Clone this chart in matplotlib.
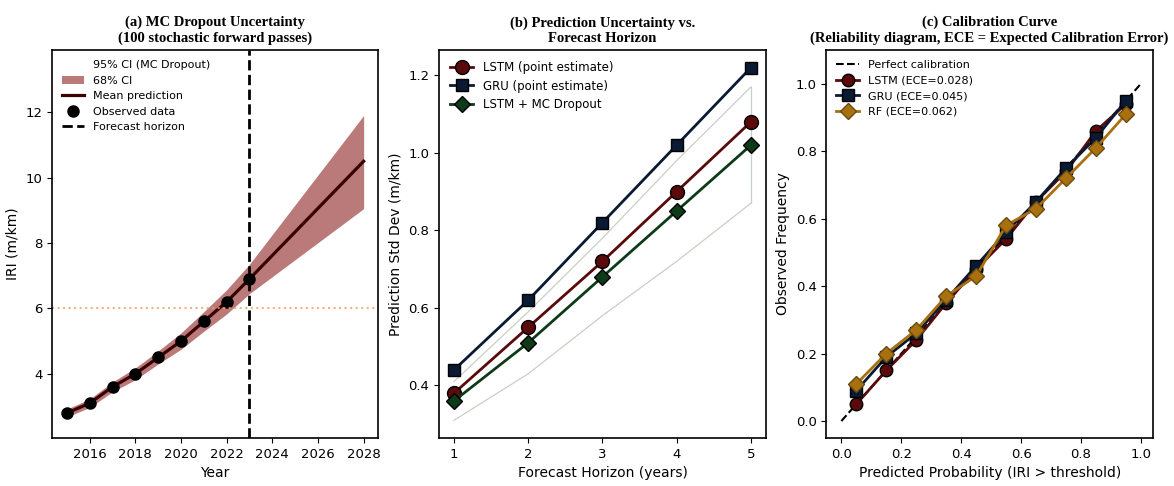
import numpy as np
import matplotlib
matplotlib.use("Agg")
import matplotlib.pyplot as plt

# ---- panel (a): MC dropout forecast ----
years = [2015, 2016, 2017, 2018, 2019, 2020, 2021, 2022, 2023,
         2024, 2025, 2026, 2027, 2028]
mean_pred = [2.8, 3.1, 3.6, 4.0, 4.5, 5.0, 5.6, 6.2, 6.9,
             7.62, 8.34, 9.06, 9.78, 10.5]
ci68_low = [2.68, 2.97, 3.45, 3.82, 4.3, 4.75, 5.3, 5.83, 6.45,
            6.97, 7.49, 8.01, 8.53, 9.05]
ci68_high = [2.92, 3.23, 3.75, 4.18, 4.7, 5.25, 5.9, 6.57, 7.35,
             8.26, 9.17, 10.08, 10.99, 11.9]
ci95_low = [2.58, 2.85, 3.3, 3.65, 4.1, 4.5, 5.0, 5.45, 6.0,
            6.3, 6.6, 6.95, 7.3, 7.6]
ci95_high = [3.02, 3.35, 3.9, 4.35, 4.9, 5.5, 6.2, 6.95, 7.8,
             8.9, 10.0, 11.1, 12.2, 13.36]
obs_years = [2015, 2016, 2017, 2018, 2019, 2020, 2021, 2022, 2023]
obs_iri = [2.8, 3.1, 3.6, 4.0, 4.5, 5.0, 5.6, 6.2, 6.9]
forecast_year = 2023
iri_threshold = 6.0

# ---- panel (b): std dev vs horizon ----
horizons = [1, 2, 3, 4, 5]
std_lstm = [0.38, 0.55, 0.72, 0.90, 1.08]
std_gru = [0.44, 0.62, 0.82, 1.02, 1.22]
std_mc = [0.36, 0.51, 0.68, 0.85, 1.02]
mc_band_low = [0.31, 0.43, 0.58, 0.72, 0.87]
mc_band_high = [0.41, 0.59, 0.78, 0.98, 1.17]

# ---- panel (c): calibration ----
prob_bins = [0.05, 0.15, 0.25, 0.35, 0.45, 0.55, 0.65, 0.75, 0.85, 0.95]
obs_lstm = [0.05, 0.15, 0.24, 0.35, 0.45, 0.54, 0.65, 0.74, 0.86, 0.94]
obs_gru = [0.09, 0.19, 0.26, 0.36, 0.46, 0.56, 0.65, 0.75, 0.84, 0.95]
obs_rf = [0.11, 0.20, 0.27, 0.37, 0.43, 0.58, 0.63, 0.72, 0.81, 0.91]
ece = {'LSTM': 0.028, 'GRU': 0.045, 'RF': 0.062}

c_lstm = '#5a0a0a'
c_gru = '#0b1a33'
c_mc = '#0d3a18'
c_rf = '#a8700f'
title_font = dict(family='Liberation Serif', weight='bold', size=10.5)

fig, axes = plt.subplots(1, 3, figsize=(11.74, 4.86), dpi=100)
fig.subplots_adjust(left=0.0443, right=0.982, top=0.897, bottom=0.099,
                    wspace=0.186)

# (a)
ax = axes[0]
ax.fill_between(years, ci95_low, ci95_high, color='#8b1a1a', alpha=0.0,
                linewidth=0, label='95% CI (MC Dropout)')
ax.fill_between(years, ci68_low, ci68_high, color='#8b1a1a', alpha=0.58,
                linewidth=0, label='68% CI')
ax.plot(years, mean_pred, color='#3a0000', lw=2.3, label='Mean prediction')
ax.plot(obs_years, obs_iri, 'o', color='black', ms=8, label='Observed data')
ax.axvline(forecast_year, color='black', ls='--', lw=2, label='Forecast horizon')
ax.axhline(iri_threshold, color='#f0a060', ls=':', lw=1.5, alpha=0.8)
ax.set_ylim(2.04, 13.9)
ax.set_xticks([2016, 2018, 2020, 2022, 2024, 2026, 2028])
ax.set_xlabel('Year', fontsize=10)
ax.set_ylabel('IRI (m/km)', fontsize=10)
ax.set_title('(a) MC Dropout Uncertainty\n(100 stochastic forward passes)',
             fontdict=title_font)
ax.legend(loc='upper left', fontsize=8, frameon=False)

# (b)
ax = axes[1]
ax.plot(horizons, mc_band_low, color='#c8cfc8', lw=0.9)
ax.plot(horizons, mc_band_high, color='#c8cfc8', lw=0.9)
ax.plot([5, 5], [mc_band_low[-1], mc_band_high[-1]], color='#c8cfc8', lw=0.9)
ax.plot(horizons, std_lstm, '-o', color=c_lstm, mec='black', ms=10, lw=2,
        label='LSTM (point estimate)')
ax.plot(horizons, std_gru, '-s', color=c_gru, mec='black', ms=9, lw=2,
        label='GRU (point estimate)')
ax.plot(horizons, std_mc, '-D', color=c_mc, mec='black', ms=8, lw=2,
        label='LSTM + MC Dropout')
ax.set_xticks(horizons)
ax.set_yticks([0.4, 0.6, 0.8, 1.0, 1.2])
ax.set_xlabel('Forecast Horizon (years)', fontsize=10)
ax.set_ylabel('Prediction Std Dev (m/km)', fontsize=10)
ax.set_title('(b) Prediction Uncertainty vs.\nForecast Horizon',
             fontdict=title_font)
ax.legend(loc='upper left', fontsize=8.5, frameon=False)

# (c)
ax = axes[2]
ax.plot([0, 1], [0, 1], '--', color='black', lw=1.5, label='Perfect calibration')
ax.plot(prob_bins, obs_lstm, '-o', color=c_lstm, mec='black', ms=9, lw=2,
        label=f"LSTM (ECE={ece['LSTM']:.3f})")
ax.plot(prob_bins, obs_gru, '-s', color=c_gru, mec='black', ms=8, lw=2,
        label=f"GRU (ECE={ece['GRU']:.3f})")
ax.plot(prob_bins, obs_rf, '-D', color=c_rf, mec='#6b4a10', ms=8, lw=2,
        label=f"RF (ECE={ece['RF']:.3f})")
ax.set_xlim(-0.05, 1.04)
ax.set_ylim(-0.05, 1.1)
ax.set_xlabel('Predicted Probability (IRI > threshold)', fontsize=10)
ax.set_ylabel('Observed Frequency', fontsize=10)
ax.set_title('(c) Calibration Curve\n(Reliability diagram, ECE = Expected Calibration Error)',
             fontdict=title_font)
ax.legend(loc='upper left', fontsize=8, frameon=False)

for ax in axes:
    ax.tick_params(labelsize=9.5)
    for sp in ax.spines.values():
        sp.set_linewidth(1.2)

plt.savefig('out.png', dpi=100)
